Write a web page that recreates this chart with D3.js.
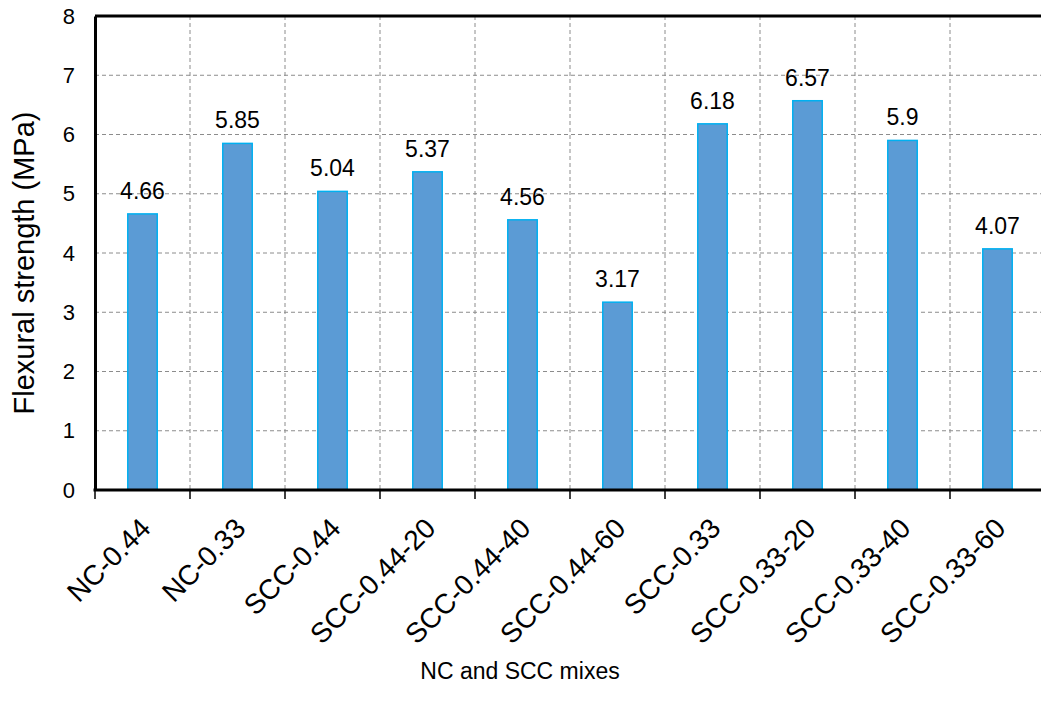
<!DOCTYPE html>
<html>
<head>
<meta charset="utf-8">
<script src="https://cdn.jsdelivr.net/npm/d3@7"></script>
<style>
  body { margin: 0; background: #fff; }
  text { font-family: Arial, "Liberation Sans", sans-serif; fill: #000; }
</style>
</head>
<body>
<div id="chart"></div>
<script>
const mixes = ["NC-0.44", "NC-0.33", "SCC-0.44", "SCC-0.44-20", "SCC-0.44-40",
               "SCC-0.44-60", "SCC-0.33", "SCC-0.33-20", "SCC-0.33-40", "SCC-0.33-60"];
const strength = [4.66, 5.85, 5.04, 5.37, 4.56, 3.17, 6.18, 6.57, 5.9, 4.07];
const yTicks = [0, 1, 2, 3, 4, 5, 6, 7, 8];

const margin = { top: 16, right: -4, bottom: 223, left: 95 };
const W = 1041, H = 713;
const width = W - margin.left - margin.right;
const height = H - margin.top - margin.bottom;

const svg = d3.select('#chart')
    .append('svg')
    .attr('width', W)
    .attr('height', H)
    .append('g')
    .attr('transform', `translate(${margin.left}, ${margin.top})`);

const xScale = d3.scaleBand()
    .domain(mixes)
    .range([0, width])
    .paddingInner(0.69)
    .paddingOuter(0.345);

const yScale = d3.scaleLinear()
    .domain([0, 8])
    .range([height, 0]);

// grid lines
const grid = svg.append('g').attr('id', 'grid');
grid.selectAll('line.h')
    .data(yTicks.slice(1, -1))
    .enter()
    .append('line')
    .attr('class', 'h')
    .attr('x1', 0).attr('x2', width)
    .attr('y1', d => yScale(d)).attr('y2', d => yScale(d));

const step = xScale.step();
grid.selectAll('line.v')
    .data(d3.range(1, mixes.length))
    .enter()
    .append('line')
    .attr('class', 'v')
    .attr('x1', i => i * step).attr('x2', i => i * step)
    .attr('y1', 0).attr('y2', height);

grid.selectAll('line')
    .style('stroke', '#8c8c8c')
    .style('stroke-width', 1)
    .style('stroke-dasharray', '4 3');

// bars
svg.append('g').selectAll('rect')
    .data(strength)
    .enter()
    .append('rect')
    .attr('x', (d, i) => xScale(mixes[i]))
    .attr('y', d => yScale(d))
    .attr('width', xScale.bandwidth())
    .attr('height', d => height - yScale(d))
    .attr('fill', '#5b9bd5')
    .attr('stroke', '#00b0f0')
    .attr('stroke-width', 1.5);

// value labels
svg.append('g').selectAll('text')
    .data(strength)
    .enter()
    .append('text')
    .attr('x', (d, i) => xScale(mixes[i]) + xScale.bandwidth() / 2)
    .attr('y', d => yScale(d) - 15)
    .attr('text-anchor', 'middle')
    .style('font-size', '23px')
    .text(d => d);

// top border
svg.append('line')
    .attr('x1', 0).attr('x2', width)
    .attr('y1', 0).attr('y2', 0)
    .style('stroke', '#000').style('stroke-width', 3);

// y axis
const yAxisGroup = svg.append('g').attr('id', 'yAxisGroup')
    .call(d3.axisLeft(yScale).tickValues(yTicks).tickSize(0).tickPadding(20).tickFormat(d3.format('d')));
yAxisGroup.select('.domain').style('stroke', '#000').style('stroke-width', 3);
yAxisGroup.selectAll('text').style('font-size', '22px').attr('font-family', null);

// x axis
const xAxisGroup = svg.append('g').attr('id', 'xAxisGroup')
    .attr('transform', `translate(0, ${height})`);
xAxisGroup.append('line')
    .attr('x1', -1.5).attr('x2', width)
    .style('stroke', '#000').style('stroke-width', 3);
xAxisGroup.selectAll('line.tick')
    .data(d3.range(0, mixes.length + 1))
    .enter()
    .append('line')
    .attr('class', 'tick')
    .attr('x1', i => i * step).attr('x2', i => i * step)
    .attr('y1', 0).attr('y2', 9)
    .style('stroke', '#000').style('stroke-width', 1.5);
xAxisGroup.selectAll('text')
    .data(mixes)
    .enter()
    .append('text')
    .attr('transform', d => `translate(${xScale(d) + xScale.bandwidth() / 2 - 4}, 26) rotate(-45)`)
    .attr('text-anchor', 'end')
    .attr('dy', '0.7em')
    .style('font-size', '28px')
    .text(d => d);

// axis titles
svg.append('text')
    .attr('transform', `translate(${24 - margin.left}, ${263 - margin.top}) rotate(-90)`)
    .attr('text-anchor', 'middle')
    .attr('dy', '0.35em')
    .style('font-size', '29px')
    .text('Flexural strength (MPa)');

svg.append('text')
    .attr('x', 520 - margin.left)
    .attr('y', 679 - margin.top)
    .attr('text-anchor', 'middle')
    .style('font-size', '23px')
    .text('NC and SCC mixes');
</script>
</body>
</html>
